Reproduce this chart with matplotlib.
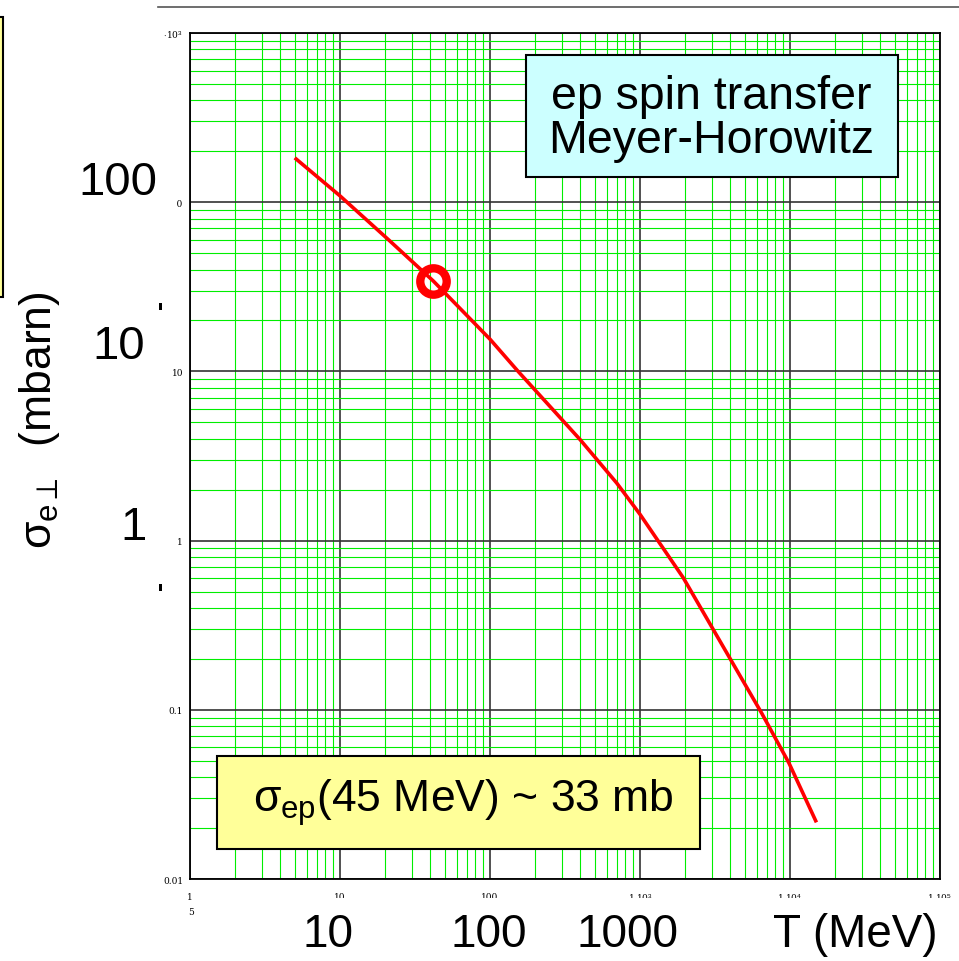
import numpy as np
import matplotlib
matplotlib.use('Agg')
import matplotlib.pyplot as plt
from matplotlib.patches import Rectangle
from matplotlib.lines import Line2D
from matplotlib.ticker import LogLocator, NullFormatter

plt.rcParams['font.family'] = ['Liberation Sans', 'DejaVu Sans']
plt.rcParams['mathtext.fontset'] = 'custom'
plt.rcParams['mathtext.rm'] = 'Liberation Sans'
plt.rcParams['mathtext.it'] = 'Liberation Sans'

# spin transfer cross section
T_mev = [5.1, 10, 21.5, 41.9, 100, 154, 398, 699, 1000, 1945, 6471, 9848, 14830]
sigma_mb = [180, 109, 59, 34.2, 15.5, 10.0, 3.96, 2.19, 1.43, 0.602, 0.0956, 0.0484, 0.0221]
mark_T = [41.9]
mark_sigma = [34.2]

x_ticks = [1, 10, 100, 1e3, 1e4, 1e5]
x_ticklabels = ['1', '10', '100', r'1$\cdot$10$^{3}$', r'1$\cdot$10$^{4}$', r'1$\cdot$10$^{5}$']
y_ticks = [0.01, 0.1, 1, 10, 100, 1000]
y_ticklabels = ['0.01', '0.1', '1', '10', '100', r'1$\cdot$10$^{3}$']

W, H = 959, 962
fig = plt.figure(figsize=(W/100, H/100), dpi=100)

def fx(x):
    return x/W
def fy(y):
    return 1 - y/H

ax = fig.add_axes([fx(190), fy(880), 750/W, 846/H])
ax.set_xscale('log')
ax.set_yscale('log')
ax.set_xlim(1, 1e5)
ax.set_ylim(0.01, 1000)
ax.xaxis.set_minor_locator(LogLocator(base=10, subs=np.arange(2, 10)))
ax.yaxis.set_minor_locator(LogLocator(base=10, subs=np.arange(2, 10)))
ax.xaxis.set_minor_formatter(NullFormatter())
ax.yaxis.set_minor_formatter(NullFormatter())
ax.grid(which='minor', color='#00ee00', lw=0.8)
ax.grid(which='major', color='#333333', lw=1.2)
ax.set_axisbelow(True)
ax.set_xticks(x_ticks)
ax.set_xticklabels(x_ticklabels, fontfamily='DejaVu Serif', fontsize=6.5)
ax.set_yticks(y_ticks)
ax.set_yticklabels(y_ticklabels, fontfamily='DejaVu Serif', fontsize=6.5)
ax.tick_params(which='both', length=0)
ax.tick_params(axis='x', pad=9)
ax.tick_params(axis='y', pad=5)
for s in ax.spines.values():
    s.set_linewidth(1.3)
    s.set_color('black')

ax.plot(T_mev, sigma_mb, color='red', lw=2.6, zorder=3)
ax.plot(mark_T, mark_sigma, 'o', ms=19, mfc='none', mec='red', mew=6, zorder=4)

# white text-box backgrounds hiding parts of the tick labels
fig.add_artist(Rectangle((fx(60), fy(212)), (177-60)/W, 62/H, transform=fig.transFigure,
                         facecolor='white', edgecolor='none', zorder=2))
fig.add_artist(Rectangle((fx(10), fy(48)), (164-10)/W, 48/H, transform=fig.transFigure,
                         facecolor='white', edgecolor='none', zorder=2))
fig.add_artist(Rectangle((fx(250), fy(H)), (W-250)/W, (H-899)/H, transform=fig.transFigure,
                         facecolor='white', edgecolor='none', zorder=2))

fig.add_artist(Line2D([fx(158), 1], [fy(8), fy(8)], transform=fig.transFigure, color='#555555', lw=1.2))
fig.add_artist(Rectangle((fx(-20), fy(298)), 23/W, 280/H, transform=fig.transFigure,
                         facecolor='#ffff99', edgecolor='black', lw=1.5, zorder=2))

# text boxes
fig.add_artist(Rectangle((fx(526), fy(178)), (898-526)/W, (178-56)/H, transform=fig.transFigure,
                         facecolor='#ccffff', edgecolor='black', lw=1.5, zorder=2))
fig.text(fx(711), fy(119), 'ep spin transfer\nMeyer-Horowitz', ha='center', va='center',
         fontsize=33.5, linespacing=1.0, zorder=3)
fig.add_artist(Rectangle((fx(217), fy(850)), (700-217)/W, (850-757)/H, transform=fig.transFigure,
                         facecolor='#ffff99', edgecolor='black', lw=1.5, zorder=2))
fig.text(fx(463), fy(803), r'$\sigma_{ep}$(45 MeV) ~ 33 mb', ha='center', va='center',
         fontsize=32, zorder=3)

fig.text(fx(157), fy(183), '100', ha='right', va='center', fontsize=34)
fig.text(fx(145), fy(347), '10', ha='right', va='center', fontsize=34)
fig.text(fx(147), fy(528), '1', ha='right', va='center', fontsize=34)
fig.add_artist(Rectangle((fx(159), fy(311)), 3/W, 7/H, transform=fig.transFigure,
                         facecolor='black', edgecolor='none'))
fig.add_artist(Rectangle((fx(159), fy(592)), 3/W, 7/H, transform=fig.transFigure,
                         facecolor='black', edgecolor='none'))
fig.text(fx(40), fy(420), r'$\sigma_{e\perp}$  (mbarn)', rotation=90, ha='center', va='center', fontsize=32)

fig.text(fx(191), fy(913), '5', ha='center', va='center', fontsize=6.5, fontfamily='DejaVu Serif')
fig.text(fx(328), fy(935), '10', ha='center', va='center', fontsize=33, zorder=3)
fig.text(fx(489), fy(935), '100', ha='center', va='center', fontsize=33, zorder=3)
fig.text(fx(628), fy(935), '1000', ha='center', va='center', fontsize=33, zorder=3)
fig.text(fx(855), fy(935), 'T (MeV)', ha='center', va='center', fontsize=33, zorder=3)

fig.savefig('out.png', dpi=100)
